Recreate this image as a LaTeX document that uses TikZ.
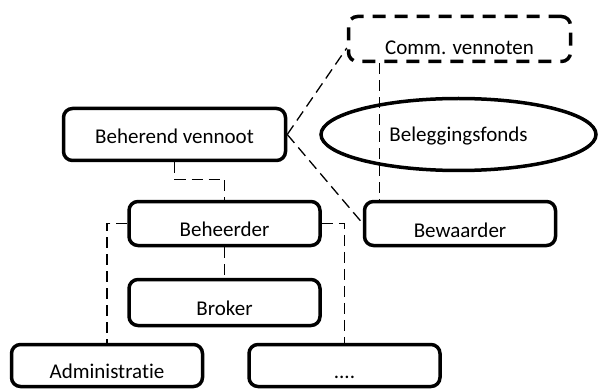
\documentclass[tikz,border=0pt]{standalone}
\usepackage{fontspec}
\setmainfont{Carlito}[Ligatures={NoCommon}]
\usetikzlibrary{positioning}
\usetikzlibrary{shapes}

\tikzset{
  box/.style={draw, line width=3.5pt, rounded corners=9pt, minimum width=191pt,
    minimum height=44pt, text height=25pt, text depth=0pt},
  dbox/.style={box, dash pattern=on 13pt off 9pt},
  fund/.style={draw, ellipse, line width=3.5pt, minimum width=275pt,
    minimum height=72pt, text height=15pt, text depth=0pt},
  conn/.style={line width=1.3pt, dash pattern=on 11pt off 6pt}
}

\begin{document}
\begin{tikzpicture}[x=1pt,y=-1pt,font=\fontsize{21}{25}\selectfont]
\useasboundingbox (0,0) rectangle (599,390);
\node[box, minimum width=222pt, minimum height=52pt, text height=19pt] (bv) at (174.5,134.5) {Beherend vennoot};
\node[dbox, minimum width=222pt, minimum height=45pt, text height=32pt] (cv) at (459.5,39) {Comm. vennoten};
\node[fund] (bf) at (458.5,134.5) {Beleggingsfonds};
\node[box] (bh) at (224.5,223.5) {Beheerder};
\node[box, text height=27pt] (bw) at (460,223.5) {Bewaarder};
\node[box, minimum height=46pt] (br) at (224.5,302.5) {Broker};
\node[box, minimum height=42pt, text height=26pt] (adm) at (107,365.5) {Administratie};
\node[box, minimum height=42pt, text height=26pt] (etc) at (344.5,365.5) {....};
%connectors
\draw[conn] (bv.south) -- ++(0,17) -| (bh.north);
\draw[conn] (bh.west) -| (adm.north);
\draw[conn] (bh.east) -| (etc.north);
\draw[conn] (bh.south) -- (br.north);
\draw[conn] (bv.east) -- ([yshift=-9pt]cv.west);
\draw[conn] (bv.east) -- (bw.west);
\draw[conn] ([xshift=-80pt]cv.south) -- ([xshift=-80pt]cv.south |- bw.north);
\end{tikzpicture}
\end{document}
